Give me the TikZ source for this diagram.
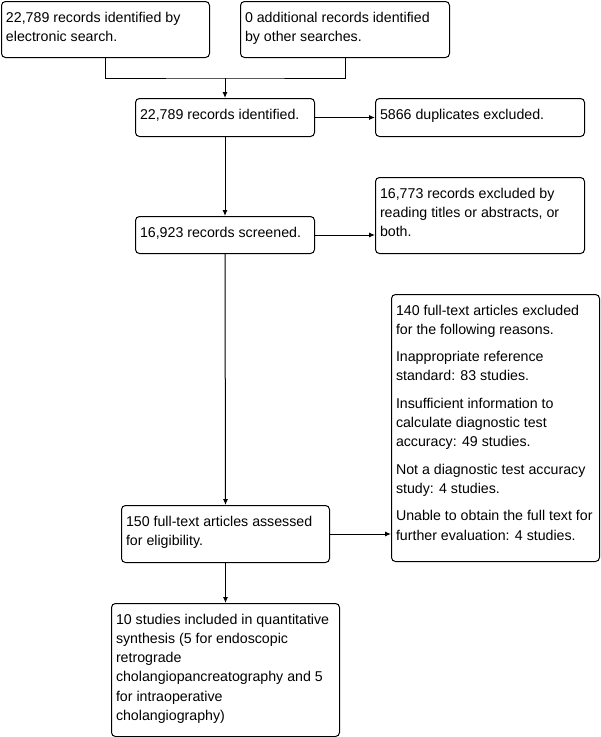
\documentclass[tikz,border=0pt]{standalone}
\usepackage{fontspec}
\setmainfont{Liberation Sans}
\usetikzlibrary{arrows.meta}
\newcommand{\boxtext}[3]{\parbox[c][#2][t]{#1}{\leftskip=4.5pt\rightskip=0pt plus 1fil\parfillskip=0pt plus 1fil\rule{0pt}{20.5pt}#3}}
\tikzset{
  box/.style={draw, rounded corners=4pt, inner sep=0pt, anchor=north west, line width=1pt},
  arr/.style={-{Latex[length=6pt,width=5pt]}, line width=1pt},
  conn/.style={line width=1pt},
  every node/.style={font=\fontsize{14.2pt}{19.3pt}\selectfont}
}
\begin{document}
\begin{tikzpicture}[x=1pt,y=-1pt]
\useasboundingbox (0,0) rectangle (601,737);
\node[box] (a) at (1,1) {\boxtext{208pt}{56pt}{22,789 records identified by\\electronic search.}};
\node[box] (b) at (240,1) {\boxtext{209pt}{56pt}{0 additional records identified\\by other searches.}};
\node[box] (c) at (135,98) {\boxtext{179pt}{38pt}{22,789 records identified.}};
\node[box] (d) at (375,98) {\boxtext{209pt}{38pt}{5866 duplicates excluded.}};
\node[box] (e) at (135,216) {\boxtext{179pt}{37pt}{16,923 records screened.}};
\node[box] (f) at (375,177) {\boxtext{209pt}{76pt}{16,773 records excluded by\\reading titles or abstracts, or\\both.}};
\node[box] (g) at (391,294) {\boxtext{208pt}{267pt}{140 full-text articles excluded\\for the following reasons.\\[8pt]Inappropriate reference\\standard: 83 studies.\\[8pt]Insufficient information to\\calculate diagnostic test\\accuracy: 49 studies.\\[8pt]Not a diagnostic test accuracy\\study: 4 studies.\\[8pt]Unable to obtain the full text for\\further evaluation: 4 studies.}};
\node[box] (h) at (121,505) {\boxtext{208pt}{57pt}{150 full-text articles assessed\\for eligibility.}};
\node[box] (i) at (111,603) {\boxtext{228pt}{133pt}{10 studies included in quantitative\\synthesis (5 for endoscopic\\retrograde\\cholangiopancreatography and 5\\for intraoperative\\cholangiography)}};
\coordinate (jy) at (0,78);
\coordinate (j) at (c.north |- jy);
\draw[conn] (a.south) |- (j) -| (b.south);
\draw[arr] (j) -- (c.north);
\draw[arr] (c.east) -- (d.west);
\draw[arr] (c.south) -- (e.north);
\draw[arr] (e.east) -- (e.east -| f.west);
\draw[arr] (e.south) -- (h.north);
\draw[arr] (h.east) -- (h.east -| g.west);
\draw[arr] (h.south) -- (i.north);
\end{tikzpicture}
\end{document}
